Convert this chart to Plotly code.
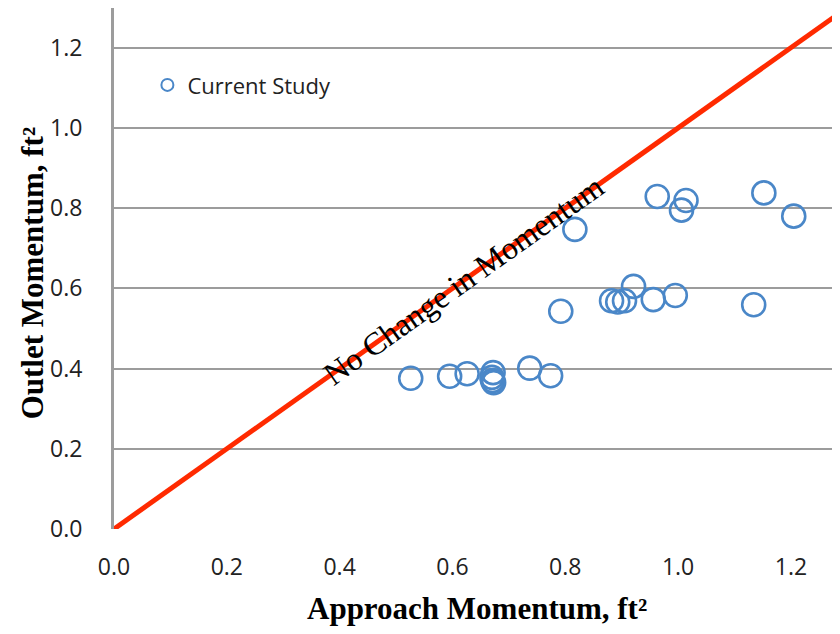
import plotly.graph_objects as go

# Data
approach_momentum = [0.526, 0.595, 0.626, 0.670, 0.671, 0.672, 0.673, 0.737, 0.774,
                     0.792, 0.817, 0.882, 0.893, 0.905, 0.921, 0.956, 0.995, 1.134,
                     0.963, 1.006, 1.014, 1.152, 1.205]
outlet_momentum = [0.376, 0.381, 0.387, 0.378, 0.370, 0.390, 0.365, 0.401, 0.382,
                   0.543, 0.747, 0.569, 0.566, 0.569, 0.605, 0.572, 0.582, 0.559,
                   0.829, 0.795, 0.819, 0.838, 0.780]
equality_line = [0.0, 1.4]
x_ticks = [0.0, 0.2, 0.4, 0.6, 0.8, 1.0, 1.2]
y_ticks = [0.0, 0.2, 0.4, 0.6, 0.8, 1.0, 1.2]

fig = go.Figure()

fig.add_trace(go.Scatter(
    x=equality_line, y=equality_line, mode="lines",
    line=dict(color="#ff2a00", width=5),
    showlegend=False, hoverinfo="skip",
))

fig.add_trace(go.Scatter(
    x=approach_momentum, y=outlet_momentum, mode="markers",
    name="Current Study",
    marker=dict(symbol="circle-open", size=23, color="#4a87c8",
                line=dict(width=2.6, color="#4a87c8")),
))

fig.add_annotation(
    x=0.62, y=0.62, xref="x", yref="y",
    text="No Change in Momentum", showarrow=False,
    textangle=-35.5,
    font=dict(family="Liberation Serif", size=32, color="#000000"),
)

fig.add_annotation(
    x=0.5, y=-0.152, xref="paper", yref="paper",
    text="<b>Approach Momentum, ft²</b>", showarrow=False,
    xanchor="center", yanchor="middle",
    font=dict(family="Liberation Serif", size=31, color="#000000"),
)

fig.add_annotation(
    x=-0.112, y=0.492, xref="paper", yref="paper",
    text="<b>Outlet Momentum, ft²</b>", showarrow=False,
    textangle=-90, xanchor="center", yanchor="middle",
    font=dict(family="Liberation Serif", size=31, color="#000000"),
)

# page body has an 8px default margin, so the figure is sized/offset to compensate
fig.update_layout(
    width=832, height=626,
    margin=dict(l=106, r=0, t=0, b=105),
    paper_bgcolor="white", plot_bgcolor="white",
    showlegend=True,
    legend=dict(
        x=0.046, y=0.852, xanchor="left", yanchor="middle",
        bgcolor="rgba(0,0,0,0)", itemsizing="constant",
        font=dict(family="Open Sans", size=22, color="#222222"),
    ),
    xaxis=dict(
        range=[0, 1.287], tickvals=x_ticks, tickformat=".1f",
        showgrid=False, zeroline=False, showline=False,
        ticks="", ticklabelstandoff=22,
        tickfont=dict(family="Open Sans", size=23, color="#222222"),
    ),
    yaxis=dict(
        range=[0, 1.299], tickvals=y_ticks, tickformat=".1f",
        showgrid=True, gridcolor="#9c9c9c", gridwidth=2,
        zeroline=False, showline=True, linecolor="#9c9c9c", linewidth=3,
        ticks="", ticklabelstandoff=24,
        tickfont=dict(family="Open Sans", size=23, color="#222222"),
    ),
)

fig.write_html("out.html")
